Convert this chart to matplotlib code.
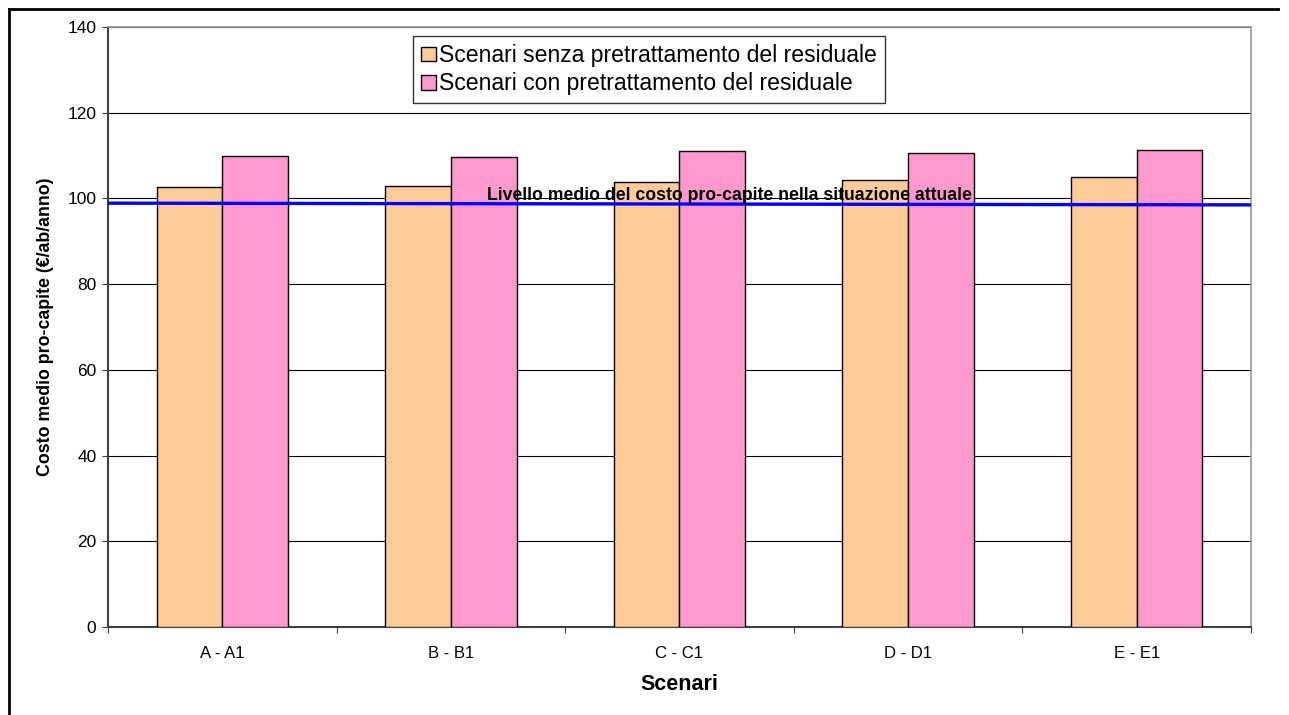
import numpy as np
import matplotlib
matplotlib.use("Agg")
import matplotlib.pyplot as plt
from matplotlib.lines import Line2D

plt.rcParams['font.family'] = ['Liberation Sans', 'DejaVu Sans']

scenari = ["A - A1", "B - B1", "C - C1", "D - D1", "E - E1"]
senza_pretratt = [102.6, 102.8, 103.9, 104.3, 104.9]
con_pretratt = [109.8, 109.7, 111.0, 110.7, 111.3]
livello_attuale = [98.9, 98.5]  # valore ai bordi sinistro e destro
livello_label = "Livello medio del costo pro-capite nella situazione attuale"

fig = plt.figure(figsize=(12.89, 7.15), dpi=100)
ax = fig.add_axes([0.0838, 0.1231, 0.8867, 0.8391])

x = np.arange(len(scenari))
w = 0.287
ax.bar(x - w / 2, senza_pretratt, w, color="#FFCC99", edgecolor="black", linewidth=1.0,
       label="Scenari senza pretrattamento del residuale", zorder=3)
ax.bar(x + w / 2, con_pretratt, w, color="#FF99CC", edgecolor="black", linewidth=1.0,
       label="Scenari con pretrattamento del residuale", zorder=3)

ax.plot([-0.5, len(scenari) - 0.5], livello_attuale, color="#0000FF", linewidth=2.4, zorder=4)
ax.text(2.22, 100.8, livello_label, ha="center", va="center", fontsize=12.7,
        fontweight="bold", zorder=5)

ax.set_xlim(-0.5, len(scenari) - 0.5)
ax.set_ylim(0, 140)
ax.set_yticks(np.arange(0, 141, 20))
ax.yaxis.grid(True, color="black", linewidth=0.8, zorder=0)
ax.set_axisbelow(True)

# tacche sui confini delle categorie, etichette al centro
ax.set_xticks(np.arange(-0.5, len(scenari), 1.0))
ax.set_xticklabels([])
ax.set_xticks(x, minor=True)
ax.set_xticklabels(scenari, minor=True, fontsize=12)
ax.tick_params(axis="x", which="minor", length=0, pad=14)
ax.tick_params(axis="x", which="major", length=4.3, color="#404040")
ax.tick_params(axis="y", length=4.3, color="#404040", labelsize=12.5, pad=4)

for s in ["left", "bottom"]:
    ax.spines[s].set_color("#404040")
    ax.spines[s].set_linewidth(1.5)
for s in ["top", "right"]:
    ax.spines[s].set_color("#999999")
    ax.spines[s].set_linewidth(1.2)

ax.set_xlabel("Scenari", fontsize=15.5, fontweight="bold", labelpad=9)
ax.set_ylabel("Costo medio pro-capite (€/ab/anno)", fontsize=12.8, fontweight="bold", labelpad=10)

leg = ax.legend(loc="upper left", bbox_to_anchor=(0.267, 0.985), fontsize=16.6,
                frameon=True, fancybox=False, edgecolor="black", handlelength=0.62,
                handleheight=0.62, handletextpad=0.15, borderpad=0.35, labelspacing=0.22,
                borderaxespad=0)
leg.get_frame().set_linewidth(1.0)

# cornice esterna del grafico
fig.add_artist(Line2D([9 / 1289, 1278 / 1289], [1 - 9 / 715, 1 - 9 / 715], color="black", linewidth=2))
fig.add_artist(Line2D([9 / 1289, 9 / 1289], [0, 1 - 9 / 715], color="black", linewidth=2))

fig.savefig("out.png", dpi=100)
